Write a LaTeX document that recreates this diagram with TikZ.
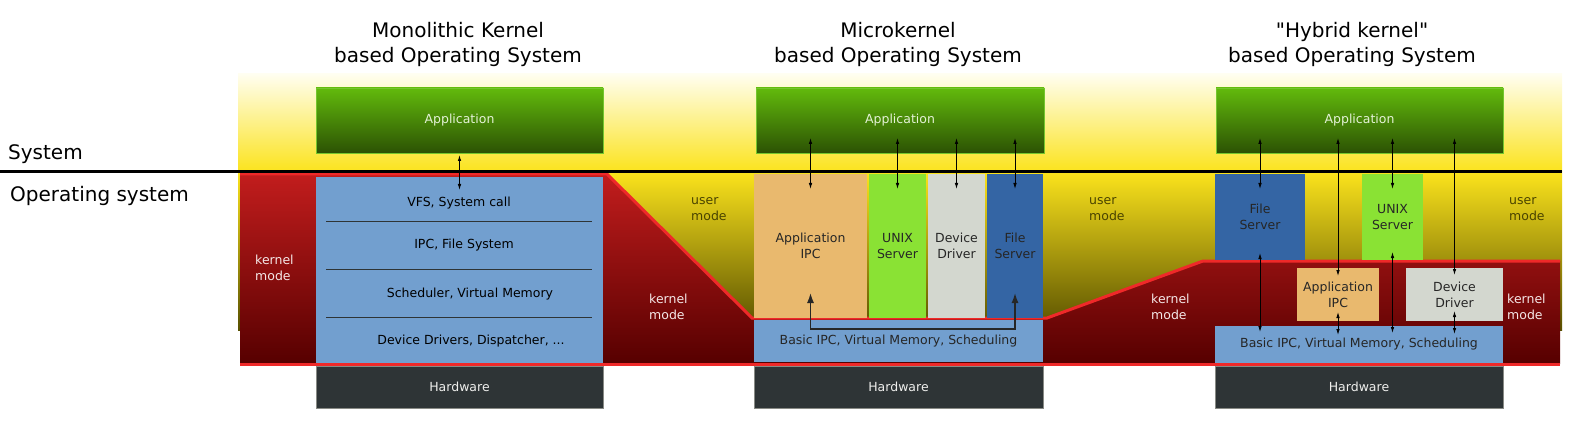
\documentclass[tikz,border=0pt]{standalone}
\usepackage{fontspec}
\setmainfont{DejaVu Sans}[Ligatures=TeXOff]
\usetikzlibrary{arrows.meta}
\definecolor{appTop}{HTML}{62BA0C}
\definecolor{appBot}{HTML}{2C5204}
\definecolor{appEdge}{HTML}{74C62E}
\definecolor{appText}{HTML}{E4F2D6}
\definecolor{skyTop}{HTML}{FFFEF0}
\definecolor{skyBot}{HTML}{FBE31C}
\definecolor{userBot}{HTML}{585000}
\definecolor{kernTop}{HTML}{C21D1D}
\definecolor{kernBot}{HTML}{560000}
\definecolor{kernLine}{HTML}{EF2929}
\definecolor{kernText}{HTML}{F4E6E6}
\definecolor{userText}{HTML}{4A4400}
\definecolor{layerBlue}{HTML}{729FCF}
\definecolor{hwGrey}{HTML}{2E3436}
\definecolor{hwEdge}{HTML}{888A85}
\definecolor{hwText}{HTML}{EEEEEC}
\definecolor{ipcTan}{HTML}{E9B96E}
\definecolor{unixGreen}{HTML}{8AE234}
\definecolor{drvGrey}{HTML}{D3D7CF}
\definecolor{fileBlue}{HTML}{3465A4}

\begin{document}
\begin{tikzpicture}[x=1pt, y=-1pt, font=\fontsize{12.5}{16}\selectfont,
	blk/.style={inner sep=0pt, outer sep=0pt, anchor=north west, align=center, text=black!85},
	appblk/.style={blk, top color=appTop, bottom color=appBot, draw=appEdge, line width=0.8pt, text=appText},
	layerblk/.style={blk, fill=layerBlue},
	hwblk/.style={blk, fill=hwGrey, draw=hwEdge, line width=0.6pt, text=hwText},
	ipcblk/.style={blk, fill=ipcTan},
	unixblk/.style={blk, fill=unixGreen},
	drvblk/.style={blk, fill=drvGrey},
	fileblk/.style={blk, fill=fileBlue},
	headline/.style={font=\fontsize{20}{25}\selectfont, align=center},
	sidelabel/.style={font=\fontsize{20}{25}\selectfont, anchor=base west, inner sep=0pt},
	usermode/.style={align=left, anchor=west, inner sep=0pt, text=userText},
	kernmode/.style={align=left, anchor=west, inner sep=0pt, text=kernText},
	sepline/.style={draw=hwGrey, line width=1pt},
	kernline/.style={draw=kernLine, line width=3pt},
	biarr/.style={{Latex[length=6pt,width=3.5pt]}-{Latex[length=6pt,width=3.5pt]}, line width=0.8pt},
	ipcarr/.style={{Latex[length=10pt,width=7pt]}-{Latex[length=10pt,width=7pt]}, line width=1.4pt, black!85}]
	\useasboundingbox (0,0) rectangle (1571,422);
	\shade[top color=skyTop, bottom color=skyBot] (238,74) rectangle (1562,172);
	\shade[top color=skyBot, bottom color=userBot] (238,172) rectangle (1562,330);
	\shade[top color=kernTop, bottom color=kernBot] (240,174) -- (607,174) -- (752,318) -- (1047,318) -- (1203,261) -- (1560,261) -- (1560,364) -- (240,364) -- cycle;
	\draw[kernline] (240,174) -- (607,174) -- (752,318) -- (1047,318) -- (1203,261) -- (1560,261);
	\draw[kernline] (240,364) -- (1560,364);

	\node[headline] (mTitle) at (458,44) {Monolithic Kernel\\based Operating System};
	\node[headline] (uTitle) at (898,44) {Microkernel\\based Operating System};
	\node[headline] (hTitle) at (1352,44) {"Hybrid kernel"\\based Operating System};
	\node[sidelabel] (sys) at (8,160) {System};
	\node[sidelabel] (os) at (10,202) {Operating system};

	\node[appblk, minimum width=287pt, minimum height=65pt] (mApp) at (316,88) {Application};
	\node[layerblk, minimum width=287pt, minimum height=186pt] (mKern) at (316,177) {};
	\draw[sepline] (326,222) -- (592,222);
	\draw[sepline] (326,269) -- (592,269);
	\draw[sepline] (326,317) -- (592,317);
	\node (mVfs) at (459,203) {VFS, System call};
	\node (mIpc) at (464,245) {IPC, File System};
	\node (mSched) at (470,294) {Scheduler, Virtual Memory};
	\node (mDrv) at (471,341) {Device Drivers, Dispatcher, ...};
	\node[hwblk, minimum width=287pt, minimum height=42pt] (mHw) at (316,366) {Hardware};

	\node[appblk, minimum width=288pt, minimum height=65pt] (uApp) at (756,88) {Application};
	\node[ipcblk, minimum width=113pt, minimum height=144pt] (uIPC) at (754,174) {Application\\IPC};
	\node[unixblk, minimum width=57pt, minimum height=144pt] (uUnix) at (869,174) {UNIX\\Server};
	\node[drvblk, minimum width=57pt, minimum height=144pt] (uDrv) at (928,174) {Device\\Driver};
	\node[fileblk, minimum width=56pt, minimum height=144pt] (uFile) at (987,174) {File\\Server};
	\node[layerblk, minimum width=289pt, minimum height=42pt] (uBasic) at (754,320) {Basic IPC, Virtual Memory, Scheduling};
	\node[hwblk, minimum width=289pt, minimum height=42pt] (uHw) at (754,366) {Hardware};

	\node[appblk, minimum width=287pt, minimum height=65pt] (hApp) at (1216,88) {Application};
	\node[fileblk, minimum width=90pt, minimum height=86pt] (hFile) at (1215,174) {File\\Server};
	\node[unixblk, minimum width=61pt, minimum height=86pt] (hUnix) at (1362,174) {UNIX\\Server};
	\node[ipcblk, minimum width=82pt, minimum height=53pt] (hIPC) at (1297,268) {Application\\IPC};
	\node[drvblk, minimum width=97pt, minimum height=53pt] (hDrv) at (1406,268) {Device\\Driver};
	\node[layerblk, minimum width=288pt, minimum height=37pt] (hBasic) at (1215,326) {Basic IPC, Virtual Memory, Scheduling};
	\node[hwblk, minimum width=288pt, minimum height=42pt] (hHw) at (1215,366) {Hardware};

	\node[kernmode] (mKm) at (255,268) {kernel\\mode};
	\node[usermode] (uUm) at (691,209) {user\\mode};
	\node[kernmode] (uKm) at (649,307) {kernel\\mode};
	\node[usermode] (hUm) at (1089,209) {user\\mode};
	\node[kernmode] (hKm) at (1151,307) {kernel\\mode};
	\node[usermode] (rUm) at (1509,209) {user\\mode};
	\node[kernmode] (rKm) at (1507,307) {kernel\\mode};

	\draw[line width=3pt] (0,172) -- (1562,172);

	\draw[biarr] ([yshift=-2pt]mApp.south) -- ([yshift=-13pt]mKern.north);
	\foreach \b in {uIPC,uUnix,uDrv,uFile}
		\draw[biarr] ([yshift=15pt]uApp.south -| \b) -- ([yshift=-15pt]\b.north);
	\draw[ipcarr] ([yshift=25pt]uIPC.south) |- ([yshift=-9pt]uBasic.north) -| ([yshift=25pt]uFile.south);
	\draw[biarr] ([yshift=15pt]hApp.south -| hFile) -- ([yshift=-15pt]hFile.north);
	\draw[biarr] ([yshift=7pt]hFile.south) -- ([yshift=-6pt]hBasic.north -| hFile);
	\draw[biarr] ([yshift=15pt]hApp.south -| hIPC) -- ([yshift=-8pt]hIPC.north);
	\draw[biarr] ([yshift=9pt]hIPC.south) -- ([yshift=-9pt]hBasic.north -| hIPC);
	\draw[biarr] ([yshift=15pt]hApp.south -| hUnix) -- ([yshift=-15pt]hUnix.north);
	\draw[biarr] ([yshift=8pt]hUnix.south) -- ([yshift=-7pt]hBasic.north -| hUnix);
	\draw[biarr] ([yshift=15pt]hApp.south -| hDrv) -- ([yshift=-7pt]hDrv.north);
	\draw[biarr] ([yshift=10pt]hDrv.south) -- ([yshift=-8pt]hBasic.north -| hDrv);
\end{tikzpicture}
\end{document}
